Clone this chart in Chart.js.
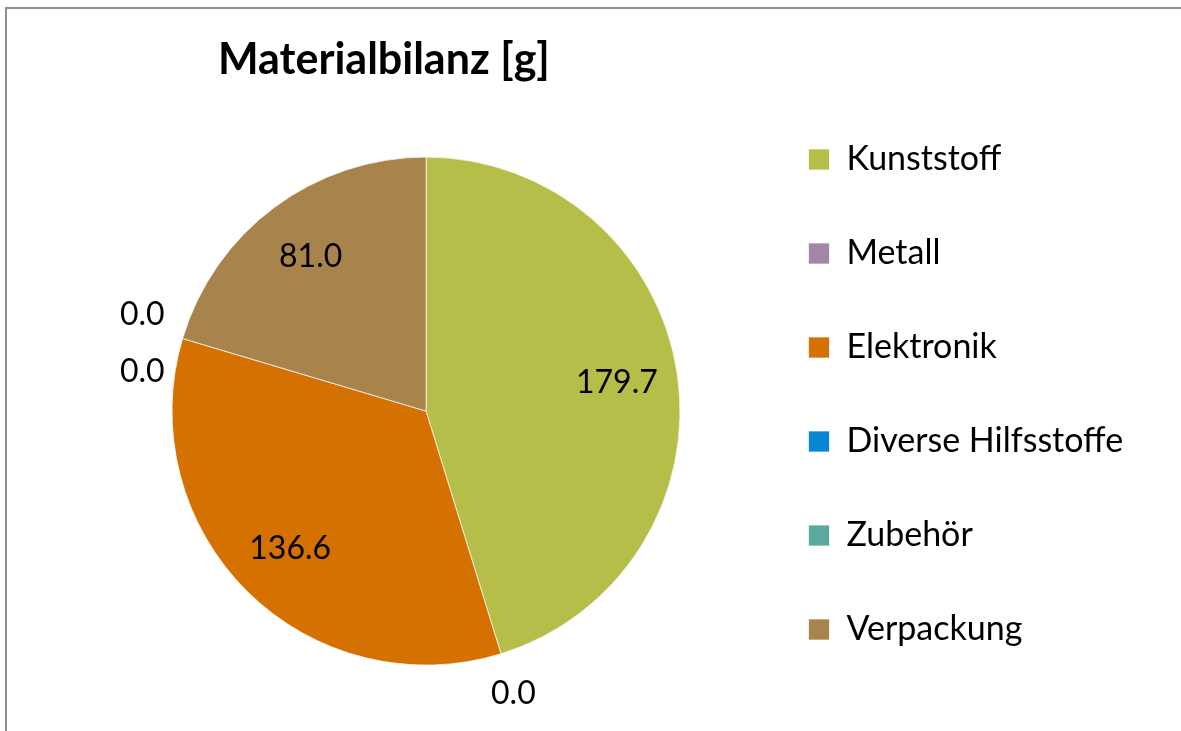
<!DOCTYPE html>
<html>
<head>
<meta charset="utf-8">
<script src="https://cdn.jsdelivr.net/npm/chart.js@4/dist/chart.umd.min.js"></script>
<style>
  html, body { margin: 0; padding: 0; background: #fff; overflow: hidden; }
  /* grauer Rahmen wie im Excel-Export (nur links und oben sichtbar) */
  .rahmen {
    position: absolute; left: 5px; top: 7px;
    width: 1176px; height: 800px;
    border-left: 2px solid #8e8e8e; border-top: 2px solid #8e8e8e;
  }
  #graficoMaterial { display: block; }
</style>
</head>
<body>
<div class="rahmen">
  <canvas id="graficoMaterial" width="1174" height="771"></canvas>
</div>
<script>
// ---- Daten ----
const kategorien = ['Kunststoff', 'Metall', 'Elektronik', 'Diverse Hilfsstoffe', 'Zubehör', 'Verpackung'];
const werte = [179.7, 0.0, 136.6, 0.0, 0.0, 81.0];
const farben = ['#b5be48', '#a386a8', '#d57100', '#0a85d6', '#5aaa9d', '#a9834c'];

const schrift = 'Lato';
const labelGroesse = 34;
const wertGroesse = 32;
const legendePadding = 60;

// Breite des längsten Legendentexts, damit die Legende rechts an der richtigen Stelle landet
const mess = document.createElement('canvas').getContext('2d');
mess.font = labelGroesse + 'px ' + schrift;
const textBreite = Math.max(...kategorien.map(k => mess.measureText(k).width));
const legendeBreite = legendePadding + 21 + labelGroesse / 2 + textBreite + 10;
const legendeLinks = 741.5;
const links = 838 - legendeLinks;
const rechts = 1174 - (legendeLinks + legendeBreite);

// Titel beginnt im Original weiter rechts als die Zeichenfläche
const titelVersatz = {
    id: 'titelVersatz',
    afterLayout(chart) {
        chart.titleBlock.left = chart.chartArea.left + 114.5;
    }
};

// Werte auf / neben die Segmente schreiben (0.0 außen, wie bei Excel)
const wertBeschriftung = {
    id: 'wertBeschriftung',
    afterDatasetsDraw(chart) {
        const ctx = chart.ctx;
        const meta = chart.getDatasetMeta(0);
        const daten = chart.data.datasets[0].data;
        const aussen = [];
        ctx.save();
        ctx.font = wertGroesse + 'px ' + schrift;
        ctx.fillStyle = '#000';
        ctx.textAlign = 'center';
        ctx.textBaseline = 'middle';
        meta.data.forEach((arc, i) => {
            const p = arc.getProps(['x', 'y', 'startAngle', 'endAngle', 'outerRadius'], true);
            const mitte = (p.startAngle + p.endAngle) / 2;
            const text = daten[i].toFixed(1);
            if (daten[i] > 0) {
                const d = p.outerRadius * 0.76;
                ctx.fillText(text, p.x + Math.cos(mitte) * d, p.y + Math.sin(mitte) * d);
            } else {
                const d = p.outerRadius + 42;
                aussen.push({ text, x: p.x + Math.cos(mitte) * d, y: p.y + Math.sin(mitte) * d });
            }
        });
        // übereinanderliegende Beschriftungen auseinanderschieben
        const abstand = 57;
        for (let i = 1; i < aussen.length; i++) {
            const a = aussen[i - 1], b = aussen[i];
            if (Math.abs(a.x - b.x) < 60 && Math.abs(a.y - b.y) < abstand) {
                const m = (a.y + b.y) / 2;
                a.y = m + abstand * 0.8;
                b.y = m - abstand * 0.2;
            }
        }
        aussen.forEach(l => ctx.fillText(l.text, l.x, l.y));
        ctx.restore();
    }
};

const ctx = document.getElementById('graficoMaterial').getContext('2d');
new Chart(ctx, {
    type: 'pie',
    data: {
        labels: kategorien,
        datasets: [{
            data: werte,
            backgroundColor: farben,
            borderColor: 'rgba(255,255,255,0.7)',
            borderWidth: 1
        }]
    },
    options: {
        responsive: false,
        animation: false,
        events: [],
        layout: { padding: { left: links, right: rechts, top: 0, bottom: 0 } },
        plugins: {
            title: {
                display: true,
                text: 'Materialbilanz [g]',
                align: 'start',
                color: '#000',
                font: { family: schrift, size: 43, weight: 'bold', lineHeight: 1.2 },
                padding: { top: 25, bottom: 71 }
            },
            // leerer Platzhalter unten, damit die Legende höher reicht als die Torte
            subtitle: {
                display: true,
                position: 'bottom',
                text: '',
                font: { size: 12, lineHeight: 1.2 },
                padding: { top: 100, bottom: 0 }
            },
            legend: {
                position: 'right',
                labels: {
                    boxWidth: 21,
                    boxHeight: 21,
                    padding: legendePadding,
                    color: '#000',
                    font: { family: schrift, size: labelGroesse }
                }
            },
            tooltip: { enabled: false }
        }
    },
    plugins: [titelVersatz, wertBeschriftung]
});
</script>
</body>
</html>
